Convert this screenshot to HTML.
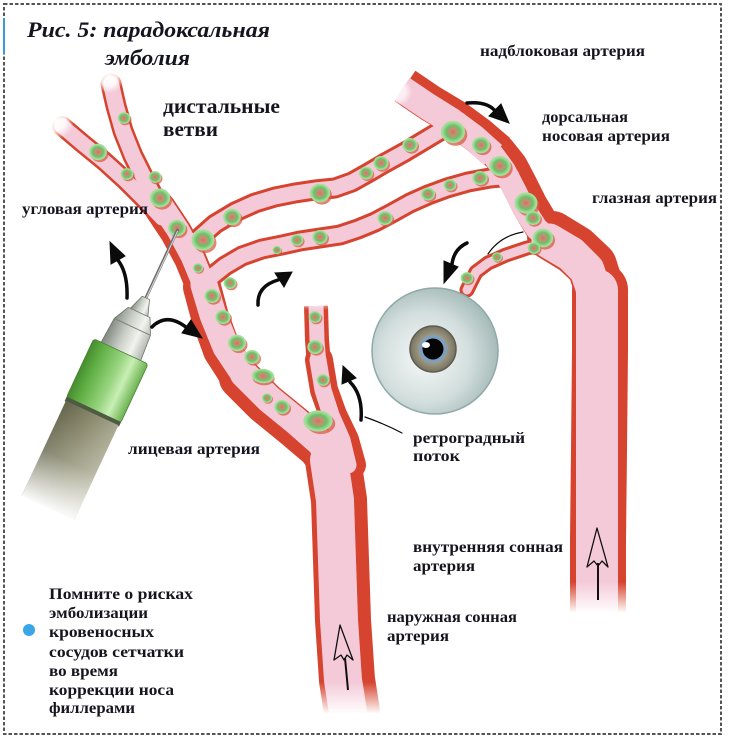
<!DOCTYPE html>
<html><head><meta charset="utf-8"><style>
html,body{margin:0;padding:0;background:#fff;}
svg{display:block;}
text{font-family:"Liberation Serif","DejaVu Serif",serif;font-weight:bold;fill:#15151f;}
</style></head><body>
<svg width="735" height="750" viewBox="0 0 735 750" xmlns="http://www.w3.org/2000/svg">
<defs>
<radialGradient id="gb" cx="0.5" cy="0.5" r="0.5">
<stop offset="0" stop-color="#d8705c"/><stop offset="0.3" stop-color="#c98d72"/><stop offset="0.62" stop-color="#6cbf69"/><stop offset="1" stop-color="#ace5a1"/>
</radialGradient>
<g id="bl">
<ellipse cx="2.5" cy="3" rx="12.5" ry="11.5" fill="#dc5a47" opacity="0.75"/>
<ellipse cx="0" cy="0" rx="12" ry="11" fill="url(#gb)" stroke="#a4de9a" stroke-width="1.5"/>
</g>
<radialGradient id="wf" cx="0.5" cy="0.5" r="0.5">
<stop offset="0" stop-color="#fff" stop-opacity="1"/><stop offset="0.55" stop-color="#fff" stop-opacity="0.85"/><stop offset="1" stop-color="#fff" stop-opacity="0"/>
</radialGradient>
<linearGradient id="fdown" x1="0" y1="0" x2="0" y2="1">
<stop offset="0" stop-color="#fff" stop-opacity="0"/><stop offset="1" stop-color="#fff" stop-opacity="1"/>
</linearGradient>
<linearGradient id="fup" x1="0" y1="1" x2="0" y2="0">
<stop offset="0" stop-color="#fff" stop-opacity="0"/><stop offset="1" stop-color="#fff" stop-opacity="0.9"/>
</linearGradient>
<radialGradient id="eyeg" cx="0.42" cy="0.55" r="0.6">
<stop offset="0" stop-color="#f7f9f9"/><stop offset="0.6" stop-color="#d2dedd"/><stop offset="1" stop-color="#a3b9b7"/>
</radialGradient>
<radialGradient id="irisg" cx="0.5" cy="0.5" r="0.5">
<stop offset="0.5" stop-color="#a9a48e"/><stop offset="1" stop-color="#767260"/>
</radialGradient>
<linearGradient id="gg" x1="0" y1="0" x2="0" y2="1">
<stop offset="0" stop-color="#6cb251"/><stop offset="0.25" stop-color="#c8efb4"/><stop offset="0.45" stop-color="#97d47e"/><stop offset="0.8" stop-color="#5fae44"/><stop offset="1" stop-color="#468d2e"/>
</linearGradient>
<linearGradient id="hg" x1="0" y1="0" x2="0" y2="1">
<stop offset="0" stop-color="#aeb4ad"/><stop offset="0.3" stop-color="#f2f4ef"/><stop offset="0.6" stop-color="#c9cfc6"/><stop offset="1" stop-color="#7f877e"/>
</linearGradient>
<linearGradient id="brg" x1="0" y1="0" x2="0" y2="1">
<stop offset="0" stop-color="#a9a890"/><stop offset="0.5" stop-color="#878669"/><stop offset="1" stop-color="#64644a"/>
</linearGradient>
<linearGradient id="brf" x1="0" y1="0" x2="1" y2="0">
<stop offset="0" stop-color="#fff" stop-opacity="0"/><stop offset="0.5" stop-color="#fff" stop-opacity="0.2"/><stop offset="1" stop-color="#fff" stop-opacity="1"/>
</linearGradient>
</defs>

<!-- vessels red layer -->
<g fill="none" stroke="#d6432e" stroke-linecap="round" stroke-linejoin="round">
<path d="M62,126 L82,143 L104,161 L126,181 L146,201 L162,218" stroke-width="20"/>
<path d="M111,84 L116,106 L123,131 L133,156 L146,182 L160,208" stroke-width="21"/>
<path d="M160,208 L176,232 L190,258 L202,287" stroke-width="32"/>
<path d="M202,287 L210,317 L222,350 L240,378" stroke-width="38"/>
<path d="M240,378 L265,403 L292,425 L318,447 L335,468" stroke-width="42"/>
<path d="M333,460 L339,500 L341,560 L343,620 L347,680 L352,712" stroke-width="56"/>
<path d="M316,306 L317,340 L319,365" stroke-width="24" stroke-linecap="butt"/>
<path d="M319,360 L324,390 L333,415 L345,440 L352,465" stroke-width="28"/>
<path d="M197,240 L215,224 L235,212 L255,203 L275,197 L295,193 L315,190 L335,188 L352,182 L368,173 L385,163 L405,152 L425,140 L445,128 L460,120" stroke-width="21"/>
<path d="M210,278 L225,266 L242,256 L262,249 L282,245 L300,241 L320,238 L340,235 L358,229 L375,222 L392,213 L410,203 L428,195 L447,188 L468,182 L490,178 L512,176" stroke-width="21"/>
<path d="M405,86 L430,103 L455,118 L478,135 L498,152" stroke-width="37" stroke-linecap="butt"/>
<path d="M478,135 L498,152 L510,167 L520,186 L530,206 L542,226 L558,240" stroke-width="36"/>
<path d="M552,236 L575,250 L592,266 L599,288 L600,310" stroke-width="50"/>
<path d="M600,290 L600,350 L599,450 L598,540 L598,612" stroke-width="56"/>
<path d="M548,243 L527,248 L506,255 L488,263 L476,272 L467,290" stroke-width="15"/>
</g>
<!-- vessels pink layer -->
<g fill="none" stroke="#f5cad8" stroke-linecap="round" stroke-linejoin="round">
<path d="M62,126 L82,143 L104,161 L126,181 L146,201 L162,218" stroke-width="15"/>
<path d="M111,84 L116,106 L123,131 L133,156 L146,182 L160,208" stroke-width="16"/>
<path d="M162,206 L178,230 L192,256 L204,285" stroke-width="23"/>
<path d="M204,285 L213,315 L226,347 L244,374" stroke-width="27"/>
<path d="M244,374 L269,399 L296,421 L321,443 L335,466" stroke-width="28"/>
<path d="M329,460 L335,500 L337,560 L339,620 L343,680 L348,712" stroke-width="38"/>
<path d="M316,306 L317,340 L319,365" stroke-width="15" stroke-linecap="butt"/>
<path d="M318,360 L323,390 L331,415 L342,440 L348,465" stroke-width="17"/>
<path d="M197,240 L215,224 L235,212 L255,203 L275,197 L295,193 L315,190 L335,188 L352,182 L368,173 L385,163 L405,152 L425,140 L445,128 L460,120" stroke-width="15"/>
<path d="M210,278 L225,266 L242,256 L262,249 L282,245 L300,241 L320,238 L340,235 L358,229 L375,222 L392,213 L410,203 L428,195 L447,188 L468,182 L490,178 L512,176" stroke-width="15"/>
<path d="M402,89 L427,106 L451,121 L474,138 L493,155" stroke-width="27" stroke-linecap="butt"/>
<path d="M474,138 L493,155 L504,170 L514,189 L524,209 L537,229 L554,243" stroke-width="23"/>
<path d="M549,241 L571,254 L587,270 L594,291 L596,310" stroke-width="35"/>
<path d="M597,290 L597,350 L597,450 L597,540 L597,612" stroke-width="42"/>
<path d="M548,243 L527,248 L506,255 L488,263 L476,272 L467,290" stroke-width="9"/>
</g>

<!-- emboli -->
<g>
<use href="#bl" transform="translate(124,118) scale(0.5)"/>
<use href="#bl" transform="translate(98,152) scale(0.7)"/>
<use href="#bl" transform="translate(127,174) scale(0.5)"/>
<use href="#bl" transform="translate(155,177) scale(0.5)"/>
<use href="#bl" transform="translate(160,198) scale(0.8)"/>
<use href="#bl" transform="translate(177,228) scale(0.7)"/>
<use href="#bl" transform="translate(203,240) scale(0.9)"/>
<use href="#bl" transform="translate(232,217) scale(0.7)"/>
<use href="#bl" transform="translate(198,268) scale(0.4)"/>
<use href="#bl" transform="translate(230,283) scale(0.5)"/>
<use href="#bl" transform="translate(212,296) scale(0.6)"/>
<use href="#bl" transform="translate(223,317) scale(0.6)"/>
<use href="#bl" transform="translate(237,343) scale(0.7)"/>
<use href="#bl" transform="translate(252,357) scale(0.6)"/>
<use href="#bl" transform="translate(263,376) scale(0.9,0.6) rotate(30)"/>
<use href="#bl" transform="translate(267,398) scale(0.4)"/>
<use href="#bl" transform="translate(282,407) scale(0.6)"/>
<use href="#bl" transform="translate(318,421) scale(1.15,0.9)"/>
<use href="#bl" transform="translate(315,317) scale(0.5)"/>
<use href="#bl" transform="translate(315,347) scale(0.6)"/>
<use href="#bl" transform="translate(323,380) scale(0.5)"/>
<use href="#bl" transform="translate(277,250) scale(0.35)"/>
<use href="#bl" transform="translate(297,240) scale(0.5)"/>
<use href="#bl" transform="translate(320,237) scale(0.6)"/>
<use href="#bl" transform="translate(320,193) scale(0.8)"/>
<use href="#bl" transform="translate(366,173) scale(0.55)"/>
<use href="#bl" transform="translate(381,163) scale(0.6)"/>
<use href="#bl" transform="translate(410,145) scale(0.6)"/>
<use href="#bl" transform="translate(453,132) scale(0.95)"/>
<use href="#bl" transform="translate(481,145) scale(0.7)"/>
<use href="#bl" transform="translate(500,166) scale(0.85)"/>
<use href="#bl" transform="translate(385,218) scale(0.6)"/>
<use href="#bl" transform="translate(428,194) scale(0.55)"/>
<use href="#bl" transform="translate(450,185) scale(0.5)"/>
<use href="#bl" transform="translate(480,178) scale(0.6)"/>
<use href="#bl" transform="translate(526,203) scale(0.9)"/>
<use href="#bl" transform="translate(533,218) scale(0.6)"/>
<use href="#bl" transform="translate(543,238) scale(0.8)"/>
<use href="#bl" transform="translate(534,248) scale(0.5)"/>
<use href="#bl" transform="translate(497,257) scale(0.4)"/>
<use href="#bl" transform="translate(467,278) scale(0.5)"/>
</g>

<!-- fades -->
<circle cx="56" cy="121" r="18" fill="url(#wf)"/>
<circle cx="109" cy="78" r="15" fill="url(#wf)"/>
<circle cx="398" cy="92" r="14" fill="url(#wf)" opacity="0.8"/>
<rect x="300" y="300" width="36" height="10" fill="url(#fup)"/>
<rect x="295" y="682" width="100" height="32" fill="url(#fdown)"/>
<rect x="295" y="713" width="100" height="35" fill="#fff"/>
<rect x="560" y="582" width="80" height="31" fill="url(#fdown)"/>
<rect x="560" y="612" width="80" height="36" fill="#fff"/>

<!-- eye -->
<circle cx="435" cy="351" r="63" fill="url(#eyeg)" stroke="#8fa9a7" stroke-width="1.5"/>
<circle cx="433" cy="349" r="23" fill="url(#irisg)" stroke="#5f5d4f" stroke-width="1.5"/>
<circle cx="433" cy="349" r="14" fill="#7d9fc0"/>
<circle cx="433" cy="349" r="10.5" fill="#050505"/>
<ellipse cx="426" cy="345" rx="4" ry="3" fill="#fff"/>

<!-- syringe -->
<g transform="translate(178,229) rotate(115)">
<line x1="0" y1="0" x2="80" y2="0" stroke="#6f6f6f" stroke-width="3"/>
<line x1="2" y1="-0.5" x2="80" y2="-0.5" stroke="#d8d8d8" stroke-width="1"/>
<polygon points="76,-4 93,-10 93,10 76,4" fill="url(#hg)" stroke="#6d7468" stroke-width="0.8"/>
<polygon points="92,-12 108,-20 138,-22 138,22 108,20 92,12" fill="url(#hg)" stroke="#6d7468" stroke-width="0.8"/>
<line x1="108" y1="-20" x2="108" y2="20" stroke="#7a8276" stroke-width="1"/>
<rect x="135" y="-30" width="65" height="60" rx="3" fill="url(#gg)" stroke="#4a7f35" stroke-width="0.8"/>
<rect x="199" y="-30" width="5" height="60" fill="#4f5a43"/>
<rect x="203" y="-29" width="105" height="58" fill="url(#brg)"/>
<rect x="203" y="-29" width="107" height="58" fill="url(#brf)"/>
</g>

<!-- arrows -->
<g fill="#0b0b0b" stroke="#0b0b0b" stroke-linecap="round">
<path d="M127,298 Q128,272 117,259" fill="none" stroke-width="3.5"/>
<polygon points="110,242 125,256 111,264" stroke-width="1"/>
<path d="M152,327 Q167,312 187,328" fill="none" stroke-width="3.5"/>
<polygon points="202,338 191,320 182,333" stroke-width="1"/>
<path d="M258,305 Q257,286 278,280" fill="none" stroke-width="3.5"/>
<polygon points="292,272 284,287 275,273" stroke-width="1"/>
<path d="M361,420 Q363,395 350,382" fill="none" stroke-width="3.5"/>
<polygon points="343,366 356,378 342,384" stroke-width="1"/>
<path d="M467,243 Q454,249 452,264" fill="none" stroke-width="3.5"/>
<polygon points="444,283 458,267 444,261" stroke-width="1"/>
<path d="M467,103 Q488,101 496,112" fill="none" stroke-width="3.5"/>
<polygon points="509,123 489,116 501,104" stroke-width="1"/>
<path d="M488,254 Q500,236 523,232" fill="none" stroke-width="1.2"/>
<path d="M365,417 Q385,424 402,433" fill="none" stroke-width="1.2"/>
</g>
<!-- hollow arrows in carotids -->
<g fill="none" stroke="#111" stroke-linejoin="round">
<path d="M597,528 L587,567 L594,561 L598,566 L602,561 L608,567 Z" stroke-width="1.3"/>
<line x1="598" y1="563" x2="598" y2="600" stroke-width="2"/>
<path d="M340,625 L334,660 L341,655 L344,660 L347,655 L353,660 Z" stroke-width="1.3"/>
<line x1="345" y1="658" x2="348" y2="690" stroke-width="2"/>
</g>

<!-- frame -->
<rect x="4" y="4" width="717" height="730" fill="none" stroke="#555" stroke-width="2" stroke-dasharray="3.5 2"/>
<line x1="4" y1="18" x2="4" y2="54" stroke="#3a9bd5" stroke-width="2"/>

<!-- text -->
<text x="27" y="37" font-size="22" font-style="italic" textLength="243" lengthAdjust="spacingAndGlyphs">Рис. 5: парадоксальная</text>
<text x="105" y="65" font-size="22" font-style="italic" textLength="85" lengthAdjust="spacingAndGlyphs">эмболия</text>
<text x="163" y="113" font-size="21" textLength="117" lengthAdjust="spacingAndGlyphs">дистальные</text>
<text x="163" y="136" font-size="21" textLength="55" lengthAdjust="spacingAndGlyphs">ветви</text>
<g font-size="16">
<text x="480" y="56" textLength="165" lengthAdjust="spacingAndGlyphs">надблоковая артерия</text>
<text x="542" y="122" textLength="86" lengthAdjust="spacingAndGlyphs">дорсальная</text>
<text x="542" y="141" textLength="128" lengthAdjust="spacingAndGlyphs">носовая артерия</text>
<text x="592" y="203" textLength="125" lengthAdjust="spacingAndGlyphs">глазная артерия</text>
<text x="22" y="214" textLength="126" lengthAdjust="spacingAndGlyphs">угловая артерия</text>
<text x="128" y="454" textLength="132" lengthAdjust="spacingAndGlyphs">лицевая артерия</text>
<text x="413" y="443" textLength="112" lengthAdjust="spacingAndGlyphs">ретроградный</text>
<text x="413" y="461" textLength="47" lengthAdjust="spacingAndGlyphs">поток</text>
<text x="413" y="552" textLength="150" lengthAdjust="spacingAndGlyphs">внутренняя сонная</text>
<text x="413" y="571" textLength="62" lengthAdjust="spacingAndGlyphs">артерия</text>
<text x="387" y="622" textLength="130" lengthAdjust="spacingAndGlyphs">наружная сонная</text>
<text x="387" y="641" textLength="62" lengthAdjust="spacingAndGlyphs">артерия</text>
<text x="49" y="599" textLength="144" lengthAdjust="spacingAndGlyphs">Помните о рисках</text>
<text x="49" y="618" textLength="99" lengthAdjust="spacingAndGlyphs">эмболизации</text>
<text x="49" y="637" textLength="105" lengthAdjust="spacingAndGlyphs">кровеносных</text>
<text x="49" y="657" textLength="135" lengthAdjust="spacingAndGlyphs">сосудов сетчатки</text>
<text x="49" y="676" textLength="69" lengthAdjust="spacingAndGlyphs">во время</text>
<text x="49" y="695" textLength="125" lengthAdjust="spacingAndGlyphs">коррекции носа</text>
<text x="49" y="713" textLength="86" lengthAdjust="spacingAndGlyphs">филлерами</text>
</g>
<circle cx="29" cy="630" r="6" fill="#3aa6e8"/>
</svg>
</body></html>
